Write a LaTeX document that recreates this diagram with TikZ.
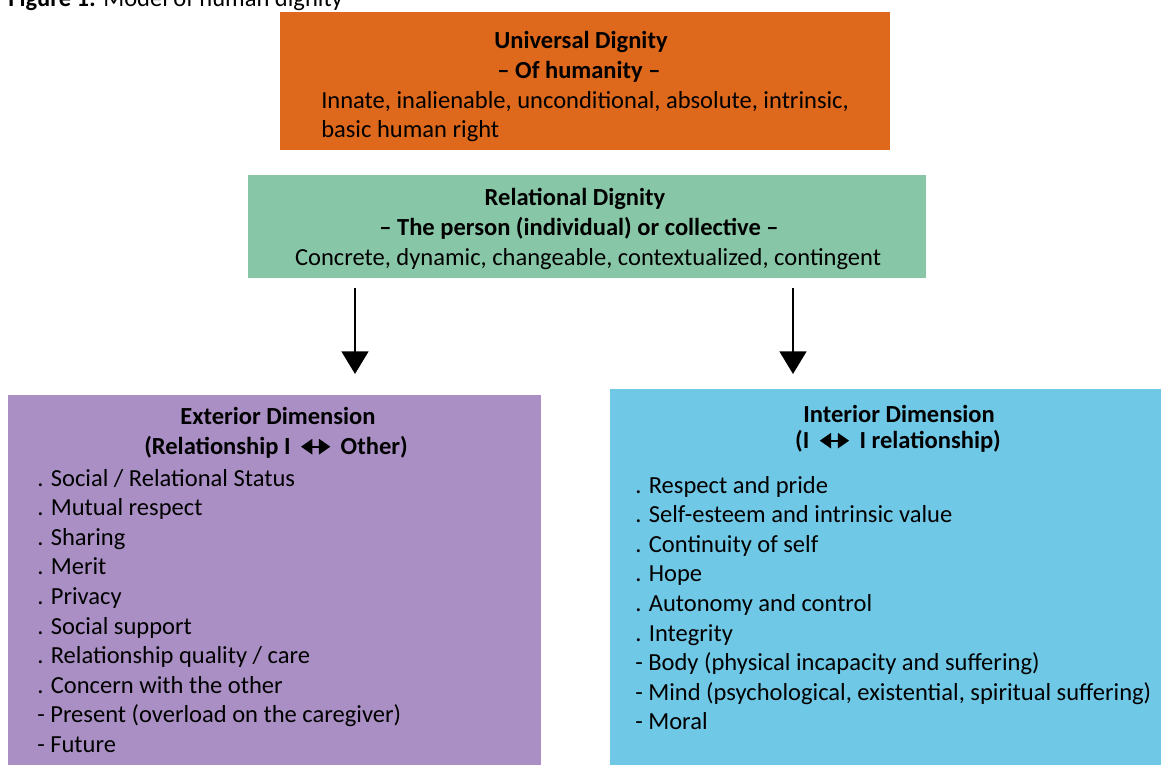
\documentclass[tikz,border=0pt]{standalone}
\usepackage{fontspec}
\setmainfont{Carlito}
\usetikzlibrary{arrows.meta, positioning}

\definecolor{universal}{RGB}{222,104,27}
\definecolor{relational}{RGB}{135,199,167}
\definecolor{exterior}{RGB}{170,143,196}
\definecolor{interior}{RGB}{112,200,231}

\newcommand{\bothways}{\hspace{3pt}\tikz[baseline=-5.5pt, x=1pt, y=1pt]\draw[line width=1.3pt, {Triangle[width=11.5pt,length=8.5pt]}-{Triangle[width=11.5pt,length=8.5pt]}] (0,0) -- (22,0);\hspace{3pt}}

\begin{document}
\begin{tikzpicture}[x=0.75pt, y=-0.75pt, font=\fontsize{18.4}{22}\selectfont]
	\tikzset{panel/.style={anchor=north west, inner sep=0pt, outer sep=0pt},
		heading/.style={anchor=base, inner sep=0pt, font=\fontsize{18.4}{22}\selectfont\bfseries},
		entry/.style={anchor=base west, inner sep=0pt},
		flow/.style={line width=2pt, -{Triangle[width=20pt, length=17pt]}}}

	\useasboundingbox (0,0) rectangle (1161,765);

	\node[panel, fill=universal, minimum width=457.5pt, minimum height=103.5pt] (universal) at (280,12) {};
	\node[panel, fill=relational, minimum width=508.5pt, minimum height=77.25pt] (relational) at (248,175) {};
	\node[panel, fill=exterior, minimum width=399.75pt, minimum height=277.5pt] (exterior) at (8,395) {};
	\node[panel, fill=interior, minimum width=413.25pt, minimum height=282pt] (interior) at (610,389) {};

	\node[entry] (caption) at (8,6) {\textbf{Figure 1:} Model of human dignity};

	\node[heading] (u-title) at (581,48) {Universal Dignity};
	\node[heading] (u-sub) at (579,78) {– Of humanity –};
	\node[entry] (u-text1) at (321,108) {Innate, inalienable, unconditional, absolute, intrinsic,};
	\node[entry] (u-text2) at (321,137) {basic human right};

	\node[heading] (r-title) at (575,205) {Relational Dignity};
	\node[heading] (r-sub) at (579,235) {– The person (individual) or collective –};
	\node[anchor=base, inner sep=0pt] (r-text) at (588,265) {Concrete, dynamic, changeable, contextualized, contingent};

	\node[heading] (e-title) at (278,424) {Exterior Dimension};
	\node[heading] (e-sub) at (276,454) {(Relationship I \bothways{} Other)};
	\foreach \txt [count=\i] in {. Social / Relational Status, . Mutual respect, . Sharing, . Merit, . Privacy, . Social support, . Relationship quality / care, . Concern with the other, - Present (overload on the caregiver), - Future}
		\node[entry] (e-\i) at (37,{486+29.6*(\i-1)}) {\txt};

	\node[heading] (i-title) at (899,422) {Interior Dimension};
	\node[heading] (i-sub) at (898,448) {(I \bothways{} I relationship)};
	\foreach \txt [count=\i] in {. Respect and pride, . Self-esteem and intrinsic value, . Continuity of self, . Hope, . Autonomy and control, . Integrity, - Body (physical incapacity and suffering), {- Mind (psychological, existential, spiritual suffering)}, - Moral}
		\node[entry] (i-\i) at (635,{493+29.6*(\i-1)}) {\txt};

	\coordinate (split-l) at ([xshift=80.25pt, yshift=-7.5pt]relational.south west);
	\coordinate (split-r) at ([xshift=-99.75pt, yshift=-7.5pt]relational.south east);
	\coordinate (ext-in) at (split-l |- 0,374);
	\coordinate (int-in) at (split-r |- 0,374);

	\draw[flow] (split-l) -- (ext-in);
	\draw[flow] (split-r) -- (int-in);
\end{tikzpicture}
\end{document}
